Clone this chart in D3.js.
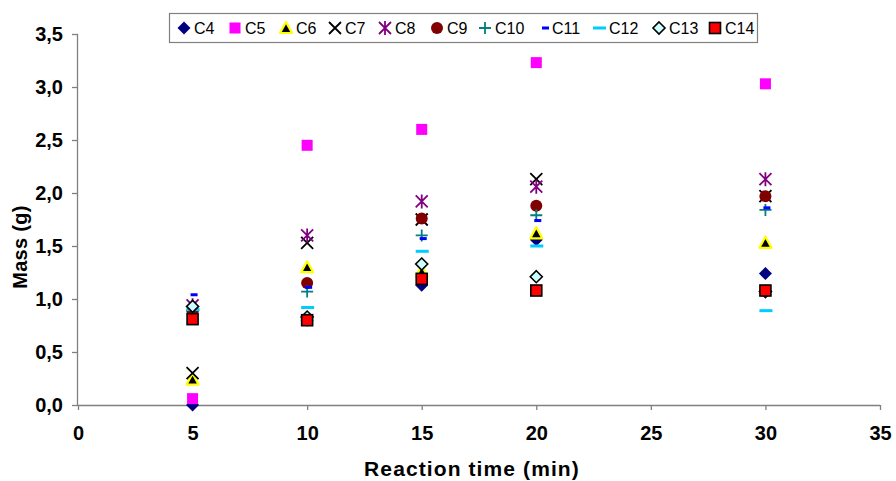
<!DOCTYPE html>
<html><head><meta charset="utf-8">
<script src="https://cdn.jsdelivr.net/npm/d3@7"></script>
<style>body{margin:0;background:#fff}svg{display:block}</style>
</head><body>
<svg id="c" width="896" height="481"></svg>
<script>
const times = [5, 10, 15, 20, 30];
const seriesNames = ["C4","C5","C6","C7","C8","C9","C10","C11","C12","C13","C14"];
const C4  = [0.00, 0.80, 1.13, 1.56, 1.24];
const C5  = [0.06, 2.45, 2.60, 3.23, 3.03];
const C6  = [0.24, 1.30, 1.26, 1.62, 1.53];
const C7  = [0.30, 1.53, 1.75, 2.13, 1.97];
const C8  = [0.94, 1.60, 1.92, 2.06, 2.13];
const C9  = [0.88, 1.15, 1.76, 1.88, 1.97];
const C10 = [0.90, 1.07, 1.60, 1.79, 1.84];
const C11 = [1.04, 1.11, 1.57, 1.74, 1.86];
const C12 = [0.90, 0.92, 1.45, 1.50, 0.89];
const C13 = [0.93, 0.83, 1.33, 1.21, 1.07];
const C14 = [0.81, 0.80, 1.19, 1.08, 1.08];
const xTicks = [0,5,10,15,20,25,30,35];
const yTicks = [0,0.5,1,1.5,2,2.5,3,3.5];
const values = [C4,C5,C6,C7,C8,C9,C10,C11,C12,C13,C14];

const svg = d3.select("#c");
const L=78, R=880, T=34, B=405;
const FONT = "Liberation Sans, Arial, sans-serif";
const x = d3.scaleLinear().domain([0,35]).range([L,R]);
const y = d3.scaleLinear().domain([0,3.5]).range([B,T]);
const fmt = v => d3.format(".1f")(v).replace(".", ",");

// axes
const xa = svg.append("g").attr("transform",`translate(0,${B})`)
  .call(d3.axisBottom(x).tickValues(xTicks).tickSize(5).tickPadding(20).tickFormat(d3.format("d")));
const ya = svg.append("g").attr("transform",`translate(${L},0)`)
  .call(d3.axisLeft(y).tickValues(yTicks).tickSize(6).tickPadding(9).tickFormat(fmt));
[xa,ya].forEach(a=>{
  a.selectAll("path,line").attr("stroke","#808080").attr("stroke-width",1.3);
  a.selectAll("text").attr("font-family",FONT)
   .attr("font-weight","bold").attr("font-size",20).attr("fill","#000");
});
xa.selectAll("text").attr("dy","0.5em");
xa.select(".domain").attr("d",`M${L},0.5H${R}`);
ya.select(".domain").attr("d",`M-0.5,${B}V${T}`);

svg.append("text").attr("x",472).attr("y",476).attr("text-anchor","middle")
  .attr("font-family",FONT).attr("font-weight","bold").attr("font-size",21)
  .attr("letter-spacing",1.1)
  .text("Reaction time (min)");
svg.append("text").attr("transform","translate(27,247) rotate(-90)").attr("text-anchor","middle")
  .attr("font-family",FONT).attr("font-weight","bold").attr("font-size",20)
  .attr("letter-spacing",0.3)
  .text("Mass (g)");

// marker drawers
function drawMarker(g, name){
  switch(name){
    case "C4": g.append("path").attr("d","M0,-6.5L6.5,0L0,6.5L-6.5,0Z").attr("fill","#000080"); break;
    case "C5": g.append("rect").attr("x",-5.5).attr("y",-5.5).attr("width",11).attr("height",11).attr("fill","#FF00FF"); break;
    case "C6": g.append("path").attr("d","M0,-6L6,5L-6,5Z").attr("fill","#000").attr("stroke","#FFFF00").attr("stroke-width",2.2).attr("stroke-linejoin","round"); break;
    case "C7": g.append("path").attr("d","M-6,-6L6,6M6,-6L-6,6").attr("stroke","#000").attr("stroke-width",1.8); break;
    case "C8": g.append("path").attr("d","M-6,-6L6,6M6,-6L-6,6M0,-7V7").attr("stroke","#800080").attr("stroke-width",1.8); break;
    case "C9": g.append("circle").attr("r",6).attr("fill","#800000"); break;
    case "C10": g.append("path").attr("d","M-6,0H6M0,-6V6").attr("stroke","#008080").attr("stroke-width",1.8); break;
    case "C11": g.append("rect").attr("x",-2).attr("y",-1.5).attr("width",7).attr("height",3).attr("fill","#0000FF"); break;
    case "C12": g.append("rect").attr("x",-6).attr("y",-1.5).attr("width",13).attr("height",3).attr("fill","#00CCFF"); break;
    case "C13": g.append("path").attr("d","M0,-6L6,0L0,6L-6,0Z").attr("fill","#CCFFFF").attr("stroke","#000").attr("stroke-width",1.6); break;
    case "C14": g.append("rect").attr("x",-5.5).attr("y",-5.5).attr("width",11).attr("height",11).attr("fill","#FF0000").attr("stroke","#000").attr("stroke-width",1.6); break;
  }
}

seriesNames.forEach((name,i)=>{
  const g = svg.append("g").attr("class","series-"+name);
  values[i].forEach((v,j)=>{
    const m = g.append("g").attr("transform",`translate(${x(times[j])},${y(v)})`);
    drawMarker(m,name);
  });
});

// legend
const lg = svg.append("g");
lg.append("rect").attr("x",169.5).attr("y",13.5).attr("width",588).attr("height",29)
  .attr("fill","#fff").attr("stroke","#808080").attr("stroke-width",1.2);
const legX = [184,235,286,335,385,437,485,544,599,659,715];
seriesNames.forEach((name,i)=>{
  const m = lg.append("g").attr("transform",`translate(${legX[i]},28)`);
  drawMarker(m,name);
  lg.append("text").attr("x",legX[i]+ (name==="C11"?8:10)).attr("y",34)
    .attr("font-family",FONT).attr("font-size",16).text(name);
});
</script>
</body></html>
